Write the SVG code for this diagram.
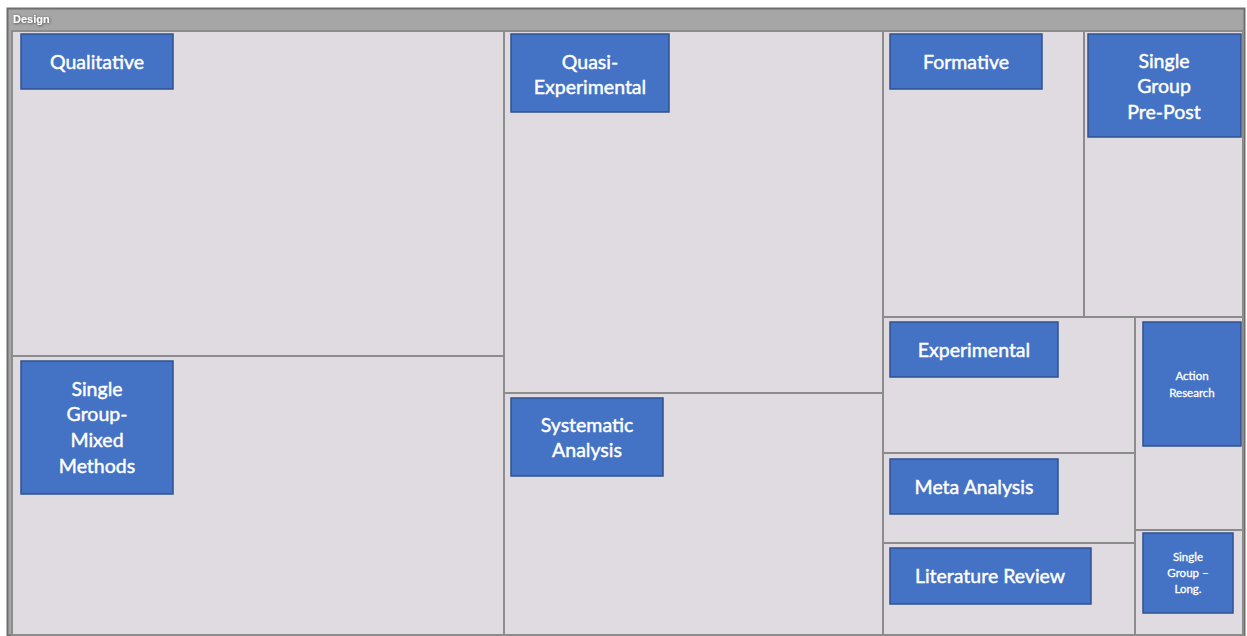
<svg xmlns="http://www.w3.org/2000/svg" width="1247" height="636" viewBox="0 0 1247 636">
  <style>
    .cell { fill: #dfdbe0; stroke: #8c8c8c; stroke-width: 2; }
    .tag { fill: #4472c4; stroke: #2f528f; stroke-width: 1.5; }
    .lbl { font-family: Lato, "Liberation Sans", sans-serif; font-size: 19.5px; fill: #ffffff; stroke: #ffffff; stroke-width: 0.45px; text-anchor: middle; }
    .sm { font-family: Lato, "Liberation Sans", sans-serif; font-size: 11.5px; fill: #ffffff; stroke: #ffffff; stroke-width: 0.3px; text-anchor: middle; }
    .hdr { font-family: "Liberation Sans", Arial, sans-serif; font-size: 11px; font-weight: bold; fill: #ffffff; }
  </style>
  <defs>
    <filter id="txtShadow" x="-10%" y="-30%" width="120%" height="160%">
      <feDropShadow dx="0.6" dy="0.6" stdDeviation="0.8" flood-color="#333333" flood-opacity="0.9"/>
    </filter>
  </defs>

  <rect width="1247" height="636" fill="#ffffff"/>

  <!-- outer frame and header bar -->
  <g id="frame">
    <rect x="7.5" y="8.5" width="1237" height="627" fill="#a6a6a6" stroke="#6e6e6e" stroke-width="2"/>
    <rect x="11" y="30" width="1232" height="605" fill="#dfdbe0"/>
    <text class="hdr" x="13" y="23" filter="url(#txtShadow)">Design</text>
  </g>

  <!-- treemap cells with their labels -->
  <g id="qualitative">
    <rect class="cell" x="12" y="31" width="492" height="325"/>
    <rect class="tag" x="21" y="34" width="152" height="55"/>
    <text class="lbl" x="97" y="69">Qualitative</text>
  </g>

  <g id="single-group-mixed-methods">
    <rect class="cell" x="12" y="356" width="492" height="279"/>
    <rect class="tag" x="21" y="361" width="152" height="133"/>
    <text class="lbl" x="97" y="396">Single</text>
    <text class="lbl" x="97" y="421">Group-</text>
    <text class="lbl" x="97" y="447">Mixed</text>
    <text class="lbl" x="97" y="473">Methods</text>
  </g>

  <g id="quasi-experimental">
    <rect class="cell" x="504" y="31" width="379" height="362"/>
    <rect class="tag" x="511" y="34" width="158" height="78"/>
    <text class="lbl" x="590" y="69">Quasi-</text>
    <text class="lbl" x="590" y="94">Experimental</text>
  </g>

  <g id="systematic-analysis">
    <rect class="cell" x="504" y="393" width="379" height="242"/>
    <rect class="tag" x="511" y="398" width="152" height="78"/>
    <text class="lbl" x="587" y="432">Systematic</text>
    <text class="lbl" x="587" y="457">Analysis</text>
  </g>

  <g id="formative">
    <rect class="cell" x="883" y="31" width="201" height="286"/>
    <rect class="tag" x="890" y="34" width="152" height="55"/>
    <text class="lbl" x="966" y="69">Formative</text>
  </g>

  <g id="single-group-pre-post">
    <rect class="cell" x="1084" y="31" width="159" height="286"/>
    <rect class="tag" x="1088" y="34" width="153" height="103"/>
    <text class="lbl" x="1164" y="68">Single</text>
    <text class="lbl" x="1164" y="93">Group</text>
    <text class="lbl" x="1164" y="119">Pre-Post</text>
  </g>

  <g id="experimental">
    <rect class="cell" x="883" y="317" width="252" height="136"/>
    <rect class="tag" x="890" y="322" width="168" height="55"/>
    <text class="lbl" x="974" y="357">Experimental</text>
  </g>

  <g id="meta-analysis">
    <rect class="cell" x="883" y="453" width="252" height="90"/>
    <rect class="tag" x="890" y="459" width="168" height="55"/>
    <text class="lbl" x="974" y="494">Meta Analysis</text>
  </g>

  <g id="literature-review">
    <rect class="cell" x="883" y="543" width="252" height="92"/>
    <rect class="tag" x="890" y="548" width="201" height="56"/>
    <text class="lbl" x="990" y="583">Literature Review</text>
  </g>

  <g id="action-research">
    <rect class="cell" x="1135" y="317" width="108" height="213"/>
    <rect class="tag" x="1143" y="322" width="98" height="124"/>
    <text class="sm" x="1192" y="380">Action</text>
    <text class="sm" x="1192" y="397">Research</text>
  </g>

  <g id="single-group-long">
    <rect class="cell" x="1135" y="530" width="108" height="105"/>
    <rect class="tag" x="1143" y="533" width="90" height="80"/>
    <text class="sm" x="1188" y="561">Single</text>
    <text class="sm" x="1188" y="577">Group –</text>
    <text class="sm" x="1188" y="593">Long.</text>
  </g>

  <!-- no connectors in this chart -->
  <g id="connectors"/>
</svg>
